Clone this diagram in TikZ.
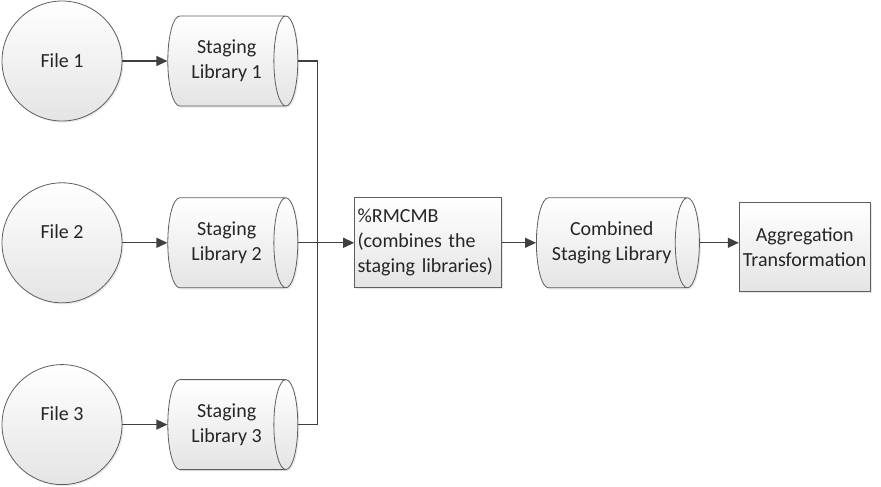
\documentclass[tikz,border=0pt]{standalone}
\usepackage{fontspec}
\setmainfont{Carlito}
\usepackage{xcolor}
\usepackage{tikz}
\usetikzlibrary{arrows.meta,positioning,shapes.geometric,shadows}
\definecolor{edgegray}{HTML}{5E5E5E}
\definecolor{linegray}{HTML}{404040}
\definecolor{shadegray}{HTML}{E4E4E4}
\definecolor{textgray}{HTML}{262626}

\begin{document}
\begin{tikzpicture}[x=1pt,y=-1pt,
 font=\fontsize{20}{25}\selectfont,text=textgray,
 node distance=61pt and 45pt,
 softshadow/.style={drop shadow={opacity=0.18,shadow xshift=1.5pt,shadow yshift=-1.5pt}},
 file/.style={circle,draw=edgegray,line width=0.8pt,top color=white,bottom color=shadegray,minimum size=120pt,inner sep=0pt,softshadow},
 stage/.style={cylinder,draw=edgegray,line width=0.8pt,aspect=0.57,top color=white,bottom color=shadegray,minimum height=130pt,minimum width=90pt,align=center,inner sep=0pt,softshadow},
 proc/.style={rectangle,draw=edgegray,line width=0.8pt,top color=white,bottom color=shadegray,minimum height=90pt,inner sep=3pt,softshadow},
 wire/.style={draw=linegray,line width=1.3pt},
 arr/.style={wire,-{Triangle[length=11pt,width=10pt]}}
]
\useasboundingbox (0,0) rectangle (881,487);
\node[file] (f1) at (62,61) {File 1};
\node[file,below=of f1] (f2) {\raisebox{11pt}[\height][\depth]{File 2}};
\node[file,below=of f2] (f3) {\raisebox{11pt}[\height][\depth]{File 3}};
\node[stage,right=of f1] (sl1) {Staging\\Library 1};
\node[stage,right=of f2] (sl2) {Staging\\Library 2};
\node[stage,right=of f3] (sl3) {Staging\\Library 3};
\coordinate[right=19pt of sl2.east] (jn);
\node[proc,right=56pt of sl2,text width=141pt,align=left] (mix) {\%RMCMB\\(combines the\\staging libraries)};
\node[stage,right=34pt of mix,minimum height=163pt] (comb) {Combined\\Staging Library};
\node[proc,right=39pt of comb,yshift=-4.5pt,minimum width=131pt,minimum height=89pt,inner sep=1pt,align=center] (agg) {Aggregation\\Transformation};

\draw[arr] (f1)--(sl1); \draw[arr] (f2)--(sl2); \draw[arr] (f3)--(sl3);
\draw[wire] (sl1.east) -| (jn); \draw[wire] (sl3.east) -| (jn);
\draw[arr] (sl2)--(mix); \draw[arr] (mix)--(comb);
\draw[arr] (comb.east) -- (comb.east -| agg.west);
\end{tikzpicture}
\end{document}
